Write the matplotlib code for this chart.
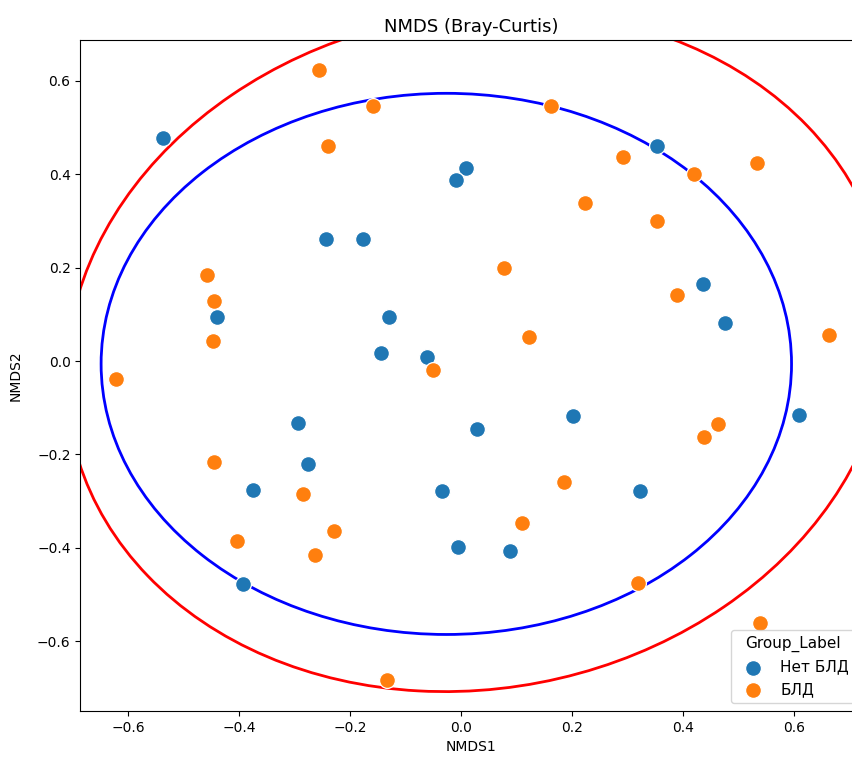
import matplotlib
matplotlib.use("Agg")
import matplotlib.pyplot as plt
from matplotlib.patches import Ellipse
import numpy as np

groups = ["Нет БЛД", "БЛД"]

no_bld_x = [-0.537, 0.0085, -0.0095, 0.352, -0.244, -0.178, -0.441, -0.130, -0.145, -0.062,
            0.436, 0.475, 0.609, 0.201, 0.028, -0.294, -0.276, -0.375, -0.035, 0.322,
            -0.0065, 0.088, -0.393]
no_bld_y = [0.478, 0.413, 0.387, 0.461, 0.261, 0.261, 0.094, 0.095, 0.018, 0.0094,
            0.165, 0.081, -0.115, -0.118, -0.145, -0.133, -0.221, -0.276, -0.278, -0.278,
            -0.398, -0.406, -0.478]

bld_x = [-0.256, -0.159, 0.161, -0.241, 0.291, 0.420, 0.533, 0.223, 0.353, -0.458,
         -0.446, -0.447, 0.077, 0.388, 0.122, 0.663, -0.623, -0.051, -0.445, 0.463,
         0.437, -0.285, 0.185, -0.229, 0.109, -0.264, -0.405, 0.319, 0.538, -0.133]
bld_y = [0.623, 0.546, 0.546, 0.461, 0.438, 0.401, 0.424, 0.339, 0.299, 0.184,
         0.129, 0.043, 0.199, 0.142, 0.052, 0.056, -0.039, -0.019, -0.216, -0.135,
         -0.163, -0.285, -0.260, -0.364, -0.346, -0.415, -0.385, -0.475, -0.560, -0.683]

# ellipses: center x, center y, width, height, angle
blue_ell = (-0.027, -0.006, 1.244, 1.159, 0.0)
red_ell = (0.0295, 0.0215, 1.530, 1.410, 39.0)

W, H = 853, 757
AX_L, AX_R = 80.3, 862.5
PX_PER_UNIT = 555.0
fig = plt.figure(figsize=(W / 100, H / 100), dpi=100)
ax = fig.add_axes([AX_L / W, 46 / H, (AX_R - AX_L) / W, (711 - 40) / H])

ax.scatter(no_bld_x, no_bld_y, s=130, color="#1f77b4", edgecolor="white", linewidth=0.9,
           label=groups[0], zorder=3)
ax.scatter(bld_x, bld_y, s=130, color="#ff7f0e", edgecolor="white", linewidth=0.9,
           label=groups[1], zorder=3)

for (cx, cy, w, h, ang), col in [(blue_ell, "blue"), (red_ell, "red")]:
    ax.add_patch(Ellipse((cx, cy), w, h, angle=ang, facecolor="none", edgecolor=col,
                         linewidth=2, zorder=2))

x_left = -0.6865
ax.set_xlim(x_left, x_left + (AX_R - AX_L) / PX_PER_UNIT)
ax.set_ylim(-0.7494, 0.6877)
ax.set_xticks([-0.6, -0.4, -0.2, 0.0, 0.2, 0.4, 0.6])
ax.set_yticks([-0.6, -0.4, -0.2, 0.0, 0.2, 0.4, 0.6])
ax.set_xlabel("NMDS1")
ax.set_ylabel("NMDS2", labelpad=10)
ax.set_title("NMDS (Bray-Curtis)", fontsize=13)
ax.legend(title="Group_Label", loc="lower right", markerscale=1.0,
          fontsize=11, title_fontsize=11)

fig.savefig("out.png", dpi=100)
